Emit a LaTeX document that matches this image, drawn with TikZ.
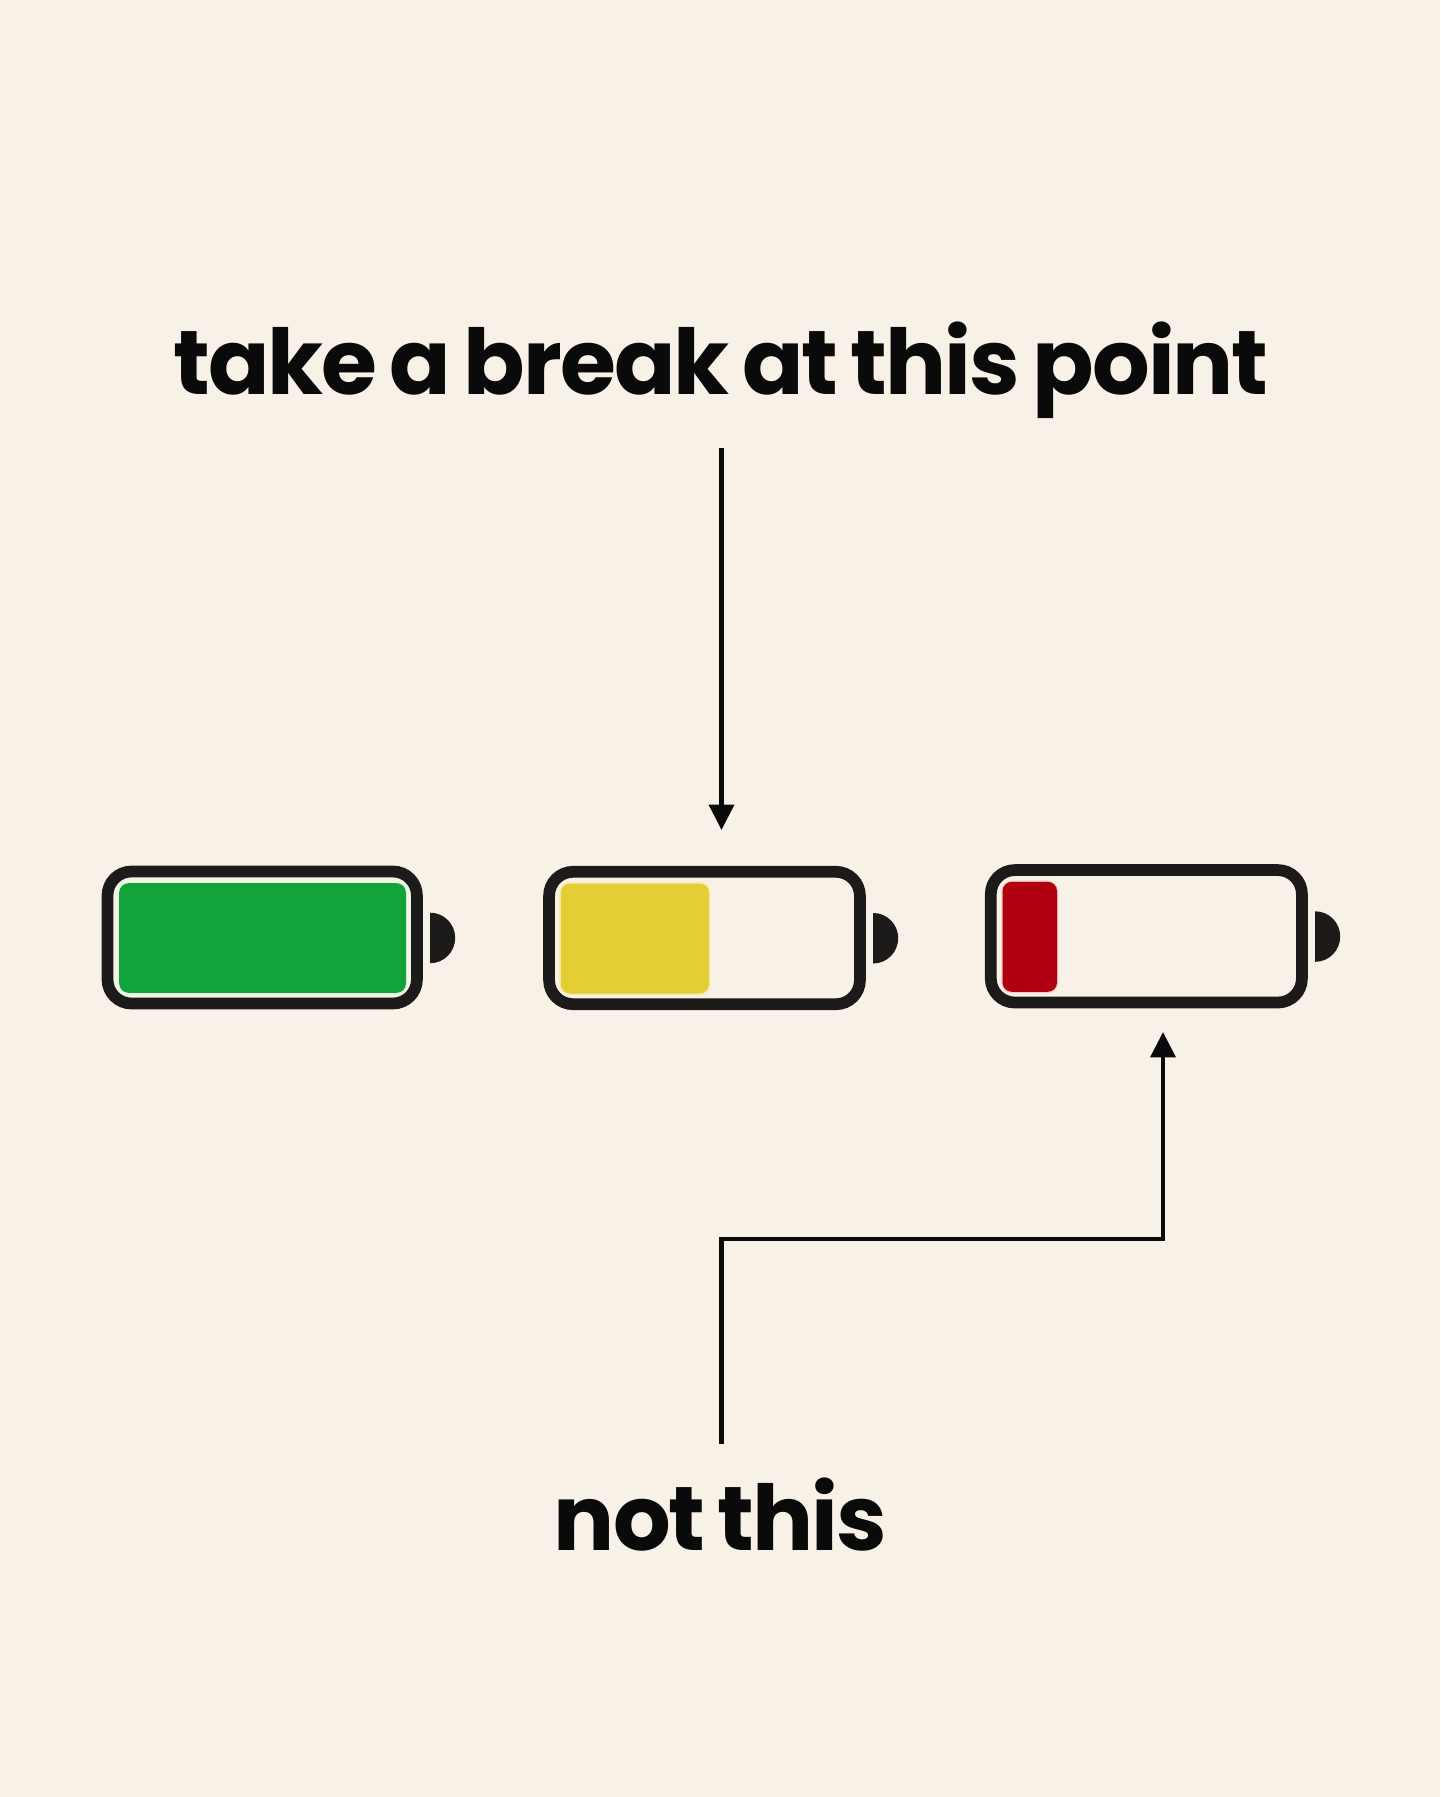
\documentclass[tikz,border=0pt]{standalone}
\usepackage{fontspec}
\newfontfamily\headfont[LetterSpace=-2.2,WordSpace=0.72]{Poppins Bold}
\usetikzlibrary{arrows.meta}
\definecolor{bgc}{HTML}{F8F1E7}
\definecolor{ink}{HTML}{1D1B1A}
\definecolor{txt}{HTML}{0A0A0A}
\definecolor{gfill}{HTML}{13A33B}
\definecolor{yfill}{HTML}{E3CF35}
\definecolor{rfill}{HTML}{B0000F}
\definecolor{ghalo}{HTML}{EDF7E3}
\definecolor{yhalo}{HTML}{F8EDB0}
\definecolor{rhalo}{HTML}{F4C8C0}
\tikzset{
  x=0.75pt,y=-0.75pt,
  shell/.style={draw=ink,line width=8.8pt,rounded corners=18pt,fill=none},
  charge/.style={rounded corners=7pt},
  nub/.style={fill=ink},
  link/.style={draw=txt,line width=3.4pt},
  tip/.style={-{Triangle[length=19pt,width=18.5pt]}},
  label/.style={inner sep=0pt,anchor=base,text=txt,font=\headfont\fontsize{68}{80}\selectfont},
}
% x0 y0 x1 y1 fill-right colour halo halo-width
\newcommand{\batt}[8]{%
  \draw[#7,charge,line width=#8] (#1+17.5,#2+17.5) rectangle (#5,#4-16.5);
  \fill[#6,charge] (#1+17.5,#2+17.5) rectangle (#5,#4-16.5);
  \draw[shell] (#1+5.8,#2+5.8) rectangle (#3-5.8,#4-5.8);
  \fill[nub] (#3+7.5,#2+47) .. controls (#3+21.3,#2+47) and (#3+32.5,#2+58.3) .. (#3+32.5,#2+72.2)
     .. controls (#3+32.5,#2+86.1) and (#3+21.3,#2+97.5) .. (#3+7.5,#2+97.5) -- cycle;
}
\begin{document}
\begin{tikzpicture}
\useasboundingbox (0,0) rectangle (1440,1797);
\fill[bgc] (0,0) rectangle (1440,1797);
\node[label] (top) at (721,395) {take a break at this point};
\node[label] (bot) at (720.5,1550) {not this};
\coordinate (a1s) at (721.5,448);
\coordinate (a1e) at (721.5,830);
\coordinate (a2s) at (721.5,1444);
\coordinate (a2k1) at (721.5,1239);
\coordinate (a2k2) at (1163,1239);
\coordinate (a2e) at (1163,1032);
\draw[link,tip] (a1s) -- (a1e);
\draw[link,tip,line join=miter] (a2s) -- (a2k1) -- (a2k2) -- (a2e);
\batt{101.7}{865.7}{422.7}{1009.3}{406}{gfill}{ghalo}{7pt}
\batt{543.3}{866}{865.7}{1010}{709}{yfill}{yhalo}{2.4pt}
\batt{985}{864.3}{1307.7}{1008.3}{1057}{rfill}{rhalo}{1.6pt}
\end{tikzpicture}
\end{document}
